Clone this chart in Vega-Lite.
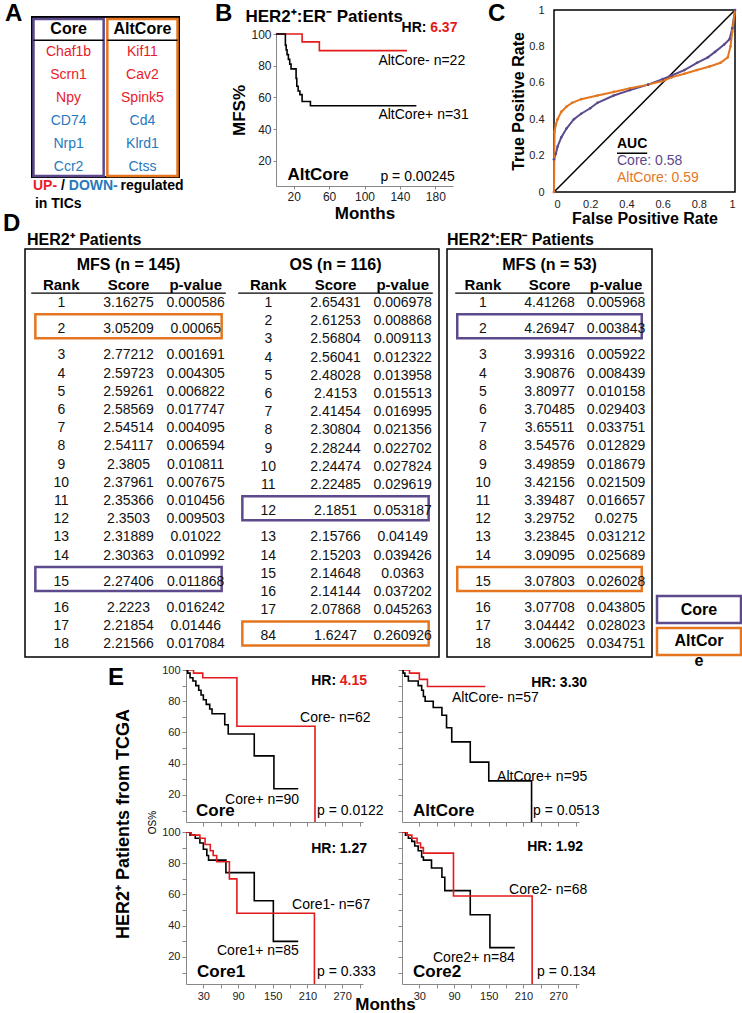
{
"$schema": "https://vega.github.io/schema/vega-lite/v6.json",
"padding": {"left": 3, "top": 1, "right": 0, "bottom": 0},
"background": "white",
"config": {
 "font": "Liberation Sans",
 "view": {"stroke": null},
 "axis": {"grid": false, "domainColor": "#888888", "tickColor": "#888888", "labelColor": "#222222", "labelFontSize": 11, "titleFontSize": 16, "titleFontWeight": "bold", "titleColor": "#000000", "tickSize": 4, "labelPadding": 2, "labelOverlap": false},
 "title": {"fontWeight": "bold", "color": "#000000", "anchor": "start", "frame": "group", "offset": 0, "baseline": "alphabetic"}
},
"datasets": {
 "genes": [
  {"set":"Core","row":1,"gene":"Chaf1b","dir":"up"},
  {"set":"Core","row":2,"gene":"Scrn1","dir":"up"},
  {"set":"Core","row":3,"gene":"Npy","dir":"up"},
  {"set":"Core","row":4,"gene":"CD74","dir":"down"},
  {"set":"Core","row":5,"gene":"Nrp1","dir":"down"},
  {"set":"Core","row":6,"gene":"Ccr2","dir":"down"},
  {"set":"AltCore","row":1,"gene":"Kif11","dir":"up"},
  {"set":"AltCore","row":2,"gene":"Cav2","dir":"up"},
  {"set":"AltCore","row":3,"gene":"Spink5","dir":"up"},
  {"set":"AltCore","row":4,"gene":"Cd4","dir":"down"},
  {"set":"AltCore","row":5,"gene":"Klrd1","dir":"down"},
  {"set":"AltCore","row":6,"gene":"Ctss","dir":"down"}
 ],
 "ranks": [
  {"tbl":"MFS145","row":1,"rank":1,"score":3.16275,"p":0.000586},
  {"tbl":"MFS145","row":2,"rank":2,"score":3.05209,"p":0.00065,"box":"AltCore"},
  {"tbl":"MFS145","row":3,"rank":3,"score":2.77212,"p":0.001691},
  {"tbl":"MFS145","row":4,"rank":4,"score":2.59723,"p":0.004305},
  {"tbl":"MFS145","row":5,"rank":5,"score":2.59261,"p":0.006822},
  {"tbl":"MFS145","row":6,"rank":6,"score":2.58569,"p":0.017747},
  {"tbl":"MFS145","row":7,"rank":7,"score":2.54514,"p":0.004095},
  {"tbl":"MFS145","row":8,"rank":8,"score":2.54117,"p":0.006594},
  {"tbl":"MFS145","row":9,"rank":9,"score":2.3805,"p":0.010811},
  {"tbl":"MFS145","row":10,"rank":10,"score":2.37961,"p":0.007675},
  {"tbl":"MFS145","row":11,"rank":11,"score":2.35366,"p":0.010456},
  {"tbl":"MFS145","row":12,"rank":12,"score":2.3503,"p":0.009503},
  {"tbl":"MFS145","row":13,"rank":13,"score":2.31889,"p":0.01022},
  {"tbl":"MFS145","row":14,"rank":14,"score":2.30363,"p":0.010992},
  {"tbl":"MFS145","row":15,"rank":15,"score":2.27406,"p":0.011868,"box":"Core"},
  {"tbl":"MFS145","row":16,"rank":16,"score":2.2223,"p":0.016242},
  {"tbl":"MFS145","row":17,"rank":17,"score":2.21854,"p":0.01446},
  {"tbl":"MFS145","row":18,"rank":18,"score":2.21566,"p":0.017084},
  {"tbl":"OS116","row":1,"rank":1,"score":2.65431,"p":0.006978},
  {"tbl":"OS116","row":2,"rank":2,"score":2.61253,"p":0.008868},
  {"tbl":"OS116","row":3,"rank":3,"score":2.56804,"p":0.009113},
  {"tbl":"OS116","row":4,"rank":4,"score":2.56041,"p":0.012322},
  {"tbl":"OS116","row":5,"rank":5,"score":2.48028,"p":0.013958},
  {"tbl":"OS116","row":6,"rank":6,"score":2.4153,"p":0.015513},
  {"tbl":"OS116","row":7,"rank":7,"score":2.41454,"p":0.016995},
  {"tbl":"OS116","row":8,"rank":8,"score":2.30804,"p":0.021356},
  {"tbl":"OS116","row":9,"rank":9,"score":2.28244,"p":0.022702},
  {"tbl":"OS116","row":10,"rank":10,"score":2.24474,"p":0.027824},
  {"tbl":"OS116","row":11,"rank":11,"score":2.22485,"p":0.029619},
  {"tbl":"OS116","row":12,"rank":12,"score":2.1851,"p":0.053187,"box":"Core"},
  {"tbl":"OS116","row":13,"rank":13,"score":2.15766,"p":0.04149},
  {"tbl":"OS116","row":14,"rank":14,"score":2.15203,"p":0.039426},
  {"tbl":"OS116","row":15,"rank":15,"score":2.14648,"p":0.0363},
  {"tbl":"OS116","row":16,"rank":16,"score":2.14144,"p":0.037202},
  {"tbl":"OS116","row":17,"rank":17,"score":2.07868,"p":0.045263},
  {"tbl":"OS116","row":18,"rank":84,"score":1.6247,"p":0.260926,"box":"AltCore"},
  {"tbl":"MFS53","row":1,"rank":1,"score":4.41268,"p":0.005968},
  {"tbl":"MFS53","row":2,"rank":2,"score":4.26947,"p":0.003843,"box":"Core"},
  {"tbl":"MFS53","row":3,"rank":3,"score":3.99316,"p":0.005922},
  {"tbl":"MFS53","row":4,"rank":4,"score":3.90876,"p":0.008439},
  {"tbl":"MFS53","row":5,"rank":5,"score":3.80977,"p":0.010158},
  {"tbl":"MFS53","row":6,"rank":6,"score":3.70485,"p":0.029403},
  {"tbl":"MFS53","row":7,"rank":7,"score":3.65511,"p":0.033751},
  {"tbl":"MFS53","row":8,"rank":8,"score":3.54576,"p":0.012829},
  {"tbl":"MFS53","row":9,"rank":9,"score":3.49859,"p":0.018679},
  {"tbl":"MFS53","row":10,"rank":10,"score":3.42156,"p":0.021509},
  {"tbl":"MFS53","row":11,"rank":11,"score":3.39487,"p":0.016657},
  {"tbl":"MFS53","row":12,"rank":12,"score":3.29752,"p":0.0275},
  {"tbl":"MFS53","row":13,"rank":13,"score":3.23845,"p":0.031212},
  {"tbl":"MFS53","row":14,"rank":14,"score":3.09095,"p":0.025689},
  {"tbl":"MFS53","row":15,"rank":15,"score":3.07803,"p":0.026028,"box":"AltCore"},
  {"tbl":"MFS53","row":16,"rank":16,"score":3.07708,"p":0.043805},
  {"tbl":"MFS53","row":17,"rank":17,"score":3.04442,"p":0.028023},
  {"tbl":"MFS53","row":18,"rank":18,"score":3.00625,"p":0.034751}
 ],
 "heads": [
  {"tbl":"MFS145","key":"rank","label":"Rank"},{"tbl":"MFS145","key":"score","label":"Score"},{"tbl":"MFS145","key":"p","label":"p-value"},
  {"tbl":"OS116","key":"rank","label":"Rank"},{"tbl":"OS116","key":"score","label":"Score"},{"tbl":"OS116","key":"p","label":"p-value"},
  {"tbl":"MFS53","key":"rank","label":"Rank"},{"tbl":"MFS53","key":"score","label":"Score"},{"tbl":"MFS53","key":"p","label":"p-value"}
 ],
 "tables": [
  {"tbl":"MFS145","title":"MFS (n = 145)"},
  {"tbl":"OS116","title":"OS (n = 116)"},
  {"tbl":"MFS53","title":"MFS (n = 53)"}
 ],
 "km": [
  {"panel":"B","status":"-","m":0,"s":100},{"panel":"B","status":"-","m":29.5,"s":95},{"panel":"B","status":"-","m":49,"s":89.5},{"panel":"B","status":"-","m":148,"s":89.5},
  {"panel":"B","status":"+","m":0,"s":100},{"panel":"B","status":"+","m":10.6,"s":93},{"panel":"B","status":"+","m":11.5,"s":90},{"panel":"B","status":"+","m":12.5,"s":87},{"panel":"B","status":"+","m":14,"s":84},{"panel":"B","status":"+","m":15.5,"s":81},{"panel":"B","status":"+","m":17,"s":78},{"panel":"B","status":"+","m":22.7,"s":72},{"panel":"B","status":"+","m":23.5,"s":67},{"panel":"B","status":"+","m":25,"s":64},{"panel":"B","status":"+","m":27,"s":61.7},{"panel":"B","status":"+","m":29.5,"s":57.4},{"panel":"B","status":"+","m":38.9,"s":54.7},{"panel":"B","status":"+","m":158.6,"s":54.7},
  {"panel":"Core","status":"-","m":0,"s":100},{"panel":"Core","status":"-","m":13,"s":98},{"panel":"Core","status":"-","m":29,"s":95},{"panel":"Core","status":"-","m":88,"s":64},{"panel":"Core","status":"-","m":223,"s":0},
  {"panel":"Core","status":"+","m":0,"s":100},{"panel":"Core","status":"+","m":3,"s":98},{"panel":"Core","status":"+","m":7,"s":95},{"panel":"Core","status":"+","m":12,"s":93},{"panel":"Core","status":"+","m":17,"s":90},{"panel":"Core","status":"+","m":22,"s":87},{"panel":"Core","status":"+","m":26,"s":84},{"panel":"Core","status":"+","m":30,"s":81},{"panel":"Core","status":"+","m":35,"s":78},{"panel":"Core","status":"+","m":41,"s":75},{"panel":"Core","status":"+","m":45,"s":72},{"panel":"Core","status":"+","m":67,"s":65},{"panel":"Core","status":"+","m":73,"s":59},{"panel":"Core","status":"+","m":118,"s":45},{"panel":"Core","status":"+","m":152,"s":24},{"panel":"Core","status":"+","m":194,"s":24},
  {"panel":"AltCore","status":"-","m":0,"s":100},{"panel":"AltCore","status":"-","m":13,"s":98},{"panel":"AltCore","status":"-","m":30,"s":94},{"panel":"AltCore","status":"-","m":44,"s":89.4},{"panel":"AltCore","status":"-","m":144,"s":89.4},
  {"panel":"AltCore","status":"+","m":0,"s":100},{"panel":"AltCore","status":"+","m":2,"s":98},{"panel":"AltCore","status":"+","m":5,"s":96},{"panel":"AltCore","status":"+","m":11,"s":93},{"panel":"AltCore","status":"+","m":28,"s":90},{"panel":"AltCore","status":"+","m":34,"s":87},{"panel":"AltCore","status":"+","m":37,"s":83},{"panel":"AltCore","status":"+","m":40,"s":80},{"panel":"AltCore","status":"+","m":54,"s":76},{"panel":"AltCore","status":"+","m":69,"s":71},{"panel":"AltCore","status":"+","m":77,"s":63},{"panel":"AltCore","status":"+","m":86,"s":54},{"panel":"AltCore","status":"+","m":118,"s":41},{"panel":"AltCore","status":"+","m":150,"s":29},{"panel":"AltCore","status":"+","m":224,"s":0},
  {"panel":"Core1","status":"+","m":0,"s":100},{"panel":"Core1","status":"+","m":7,"s":98},{"panel":"Core1","status":"+","m":16,"s":96},{"panel":"Core1","status":"+","m":24,"s":93},{"panel":"Core1","status":"+","m":30,"s":89},{"panel":"Core1","status":"+","m":36,"s":85},{"panel":"Core1","status":"+","m":39,"s":82},{"panel":"Core1","status":"+","m":69,"s":74},{"panel":"Core1","status":"+","m":118,"s":56},{"panel":"Core1","status":"+","m":151,"s":30},{"panel":"Core1","status":"+","m":194,"s":30},
  {"panel":"Core1","status":"-","m":0,"s":100},{"panel":"Core1","status":"-","m":9,"s":98},{"panel":"Core1","status":"-","m":24,"s":96},{"panel":"Core1","status":"-","m":33,"s":92},{"panel":"Core1","status":"-","m":42,"s":88},{"panel":"Core1","status":"-","m":47,"s":85},{"panel":"Core1","status":"-","m":53,"s":81},{"panel":"Core1","status":"-","m":75,"s":70},{"panel":"Core1","status":"-","m":88,"s":48},{"panel":"Core1","status":"-","m":222,"s":0},
  {"panel":"Core2","status":"+","m":0,"s":100},{"panel":"Core2","status":"+","m":6,"s":98},{"panel":"Core2","status":"+","m":11,"s":96},{"panel":"Core2","status":"+","m":17,"s":94},{"panel":"Core2","status":"+","m":22,"s":91},{"panel":"Core2","status":"+","m":28,"s":88},{"panel":"Core2","status":"+","m":34,"s":84},{"panel":"Core2","status":"+","m":37,"s":82},{"panel":"Core2","status":"+","m":51,"s":77},{"panel":"Core2","status":"+","m":69,"s":71},{"panel":"Core2","status":"+","m":74,"s":62.5},{"panel":"Core2","status":"+","m":118,"s":47},{"panel":"Core2","status":"+","m":152,"s":26},{"panel":"Core2","status":"+","m":195,"s":26},
  {"panel":"Core2","status":"-","m":0,"s":100},{"panel":"Core2","status":"-","m":9,"s":98},{"panel":"Core2","status":"-","m":17,"s":96},{"panel":"Core2","status":"-","m":26,"s":93},{"panel":"Core2","status":"-","m":32,"s":90},{"panel":"Core2","status":"-","m":37,"s":86.5},{"panel":"Core2","status":"-","m":89,"s":59},{"panel":"Core2","status":"-","m":225,"s":0}
 ],
 "notes": [
  {"panel":"B","kind":"hr","label":"6.37","m":205,"s":103.8,"p":0.00245},
  {"panel":"B","kind":"neg","label":"AltCore- n=22","m":115.7,"s":82.9},
  {"panel":"B","kind":"pos","label":"AltCore+ n=31","m":115.7,"s":48.8},
  {"panel":"B","kind":"name","label":"AltCore","m":12.9,"s":10.9},
  {"panel":"B","kind":"p","label":"p = 0.00245","m":118,"s":9.7},
  {"panel":"Core","kind":"hr","label":"4.15","m":313,"s":93,"p":0.0122},
  {"panel":"Core","kind":"neg","label":"Core- n=62","m":197.2,"s":69.3},
  {"panel":"Core","kind":"pos","label":"Core+ n=90","m":67.5,"s":16.8},
  {"panel":"Core","kind":"name","label":"Core","m":17.3,"s":9.8},
  {"panel":"Core","kind":"p","label":"p = 0.0122","m":226.6,"s":9.8},
  {"panel":"AltCore","kind":"hr","label":"3.30","m":320,"s":91.7,"p":0.0513},
  {"panel":"AltCore","kind":"neg","label":"AltCore- n=57","m":86.5,"s":82.1},
  {"panel":"AltCore","kind":"pos","label":"AltCore+ n=95","m":164.4,"s":31.5},
  {"panel":"AltCore","kind":"name","label":"AltCore","m":19,"s":9.8},
  {"panel":"AltCore","kind":"p","label":"p = 0.0513","m":226.6,"s":9.8},
  {"panel":"Core1","kind":"hr","label":"1.27","m":313,"s":89.1,"p":0.333},
  {"panel":"Core1","kind":"neg","label":"Core1- n=67","m":183.4,"s":53.3},
  {"panel":"Core1","kind":"pos","label":"Core1+ n=85","m":53.6,"s":23.8},
  {"panel":"Core1","kind":"name","label":"Core1","m":19,"s":10.4},
  {"panel":"Core1","kind":"p","label":"p = 0.333","m":226.6,"s":10.4},
  {"panel":"Core2","kind":"hr","label":"1.92","m":313,"s":90.4,"p":0.134},
  {"panel":"Core2","kind":"neg","label":"Core2- n=68","m":185.1,"s":62.9},
  {"panel":"Core2","kind":"pos","label":"Core2+ n=84","m":53.6,"s":19.4},
  {"panel":"Core2","kind":"name","label":"Core2","m":19,"s":10.4},
  {"panel":"Core2","kind":"p","label":"p = 0.134","m":233.6,"s":10.4}
 ],
 "roc": [
  {"model":"Core","i":0,"fpr":0,"tpr":0},{"model":"Core","i":1,"fpr":0,"tpr":0.18},{"model":"Core","i":2,"fpr":0.01,"tpr":0.21},{"model":"Core","i":3,"fpr":0.02,"tpr":0.25},{"model":"Core","i":4,"fpr":0.04,"tpr":0.3},{"model":"Core","i":5,"fpr":0.07,"tpr":0.35},{"model":"Core","i":6,"fpr":0.11,"tpr":0.4},{"model":"Core","i":7,"fpr":0.15,"tpr":0.43},{"model":"Core","i":8,"fpr":0.2,"tpr":0.46},{"model":"Core","i":9,"fpr":0.24,"tpr":0.49},{"model":"Core","i":10,"fpr":0.33,"tpr":0.53},{"model":"Core","i":11,"fpr":0.42,"tpr":0.56},{"model":"Core","i":12,"fpr":0.52,"tpr":0.59},{"model":"Core","i":13,"fpr":0.6,"tpr":0.62},{"model":"Core","i":14,"fpr":0.65,"tpr":0.64},{"model":"Core","i":15,"fpr":0.72,"tpr":0.67},{"model":"Core","i":16,"fpr":0.79,"tpr":0.71},{"model":"Core","i":17,"fpr":0.85,"tpr":0.74},{"model":"Core","i":18,"fpr":0.89,"tpr":0.77},{"model":"Core","i":19,"fpr":0.94,"tpr":0.81},{"model":"Core","i":20,"fpr":0.97,"tpr":0.84},{"model":"Core","i":21,"fpr":0.985,"tpr":0.9},{"model":"Core","i":22,"fpr":1,"tpr":1},
  {"model":"AltCore","i":0,"fpr":0,"tpr":0},{"model":"AltCore","i":1,"fpr":0.003,"tpr":0.33},{"model":"AltCore","i":2,"fpr":0.01,"tpr":0.37},{"model":"AltCore","i":3,"fpr":0.02,"tpr":0.4},{"model":"AltCore","i":4,"fpr":0.04,"tpr":0.44},{"model":"AltCore","i":5,"fpr":0.07,"tpr":0.47},{"model":"AltCore","i":6,"fpr":0.1,"tpr":0.49},{"model":"AltCore","i":7,"fpr":0.15,"tpr":0.51},{"model":"AltCore","i":8,"fpr":0.24,"tpr":0.53},{"model":"AltCore","i":9,"fpr":0.33,"tpr":0.55},{"model":"AltCore","i":10,"fpr":0.42,"tpr":0.57},{"model":"AltCore","i":11,"fpr":0.52,"tpr":0.59},{"model":"AltCore","i":12,"fpr":0.6,"tpr":0.61},{"model":"AltCore","i":13,"fpr":0.65,"tpr":0.63},{"model":"AltCore","i":14,"fpr":0.72,"tpr":0.65},{"model":"AltCore","i":15,"fpr":0.79,"tpr":0.67},{"model":"AltCore","i":16,"fpr":0.86,"tpr":0.69},{"model":"AltCore","i":17,"fpr":0.92,"tpr":0.71},{"model":"AltCore","i":18,"fpr":0.96,"tpr":0.74},{"model":"AltCore","i":19,"fpr":0.975,"tpr":0.8},{"model":"AltCore","i":20,"fpr":0.985,"tpr":0.88},{"model":"AltCore","i":21,"fpr":1,"tpr":1}
 ]
},
"spacing": -25,
"resolve": {"scale": {"xOffset": "independent"}},
"vconcat": [
 {"bounds": "flush", "spacing": 0, "hconcat": [
  {"width": 12, "height": 220, "data": {"values": []}, "mark": "point"},
  {
   "width": 147, "height": 160,
   "title": {"text": "A", "fontSize": 24, "dx": -27, "dy": 13},
   "view": {"stroke": "#000000", "strokeWidth": 2},
   "layer": [
    {"data": {"values": [{"set":"Core"},{"set":"AltCore"}]},
     "mark": {"type": "rect", "filled": false, "strokeWidth": 2.5},
     "encoding": {
      "x": {"field": "set", "type": "nominal", "scale": {"domain": ["Core","AltCore"], "paddingInner": 0.05, "paddingOuter": 0.02}, "axis": null},
      "y": {"datum": -0.435, "type": "quantitative", "scale": {"domain": [-0.522, 6.435], "reverse": true, "nice": false, "zero": false}, "axis": null},
      "y2": {"datum": 6.39},
      "stroke": {"field": "set", "type": "nominal", "scale": {"domain": ["Core","AltCore"], "range": ["#5c4a8c","#e5761f"]}, "legend": null}}},
    {"data": {"values": [{"set":"Core"},{"set":"AltCore"}]},
     "mark": {"type": "rect", "color": "#000000"},
     "encoding": {"x": {"field": "set", "type": "nominal", "axis": null}, "y": {"datum": 0.455, "type": "quantitative", "axis": null}, "y2": {"datum": 0.52}}},
    {"data": {"values": [{"set":"Core"},{"set":"AltCore"}]},
     "mark": {"type": "text", "fontSize": 16, "fontWeight": "bold", "baseline": "middle", "color": "#000000"},
     "encoding": {"x": {"field": "set", "type": "nominal", "axis": null}, "y": {"datum": 0, "type": "quantitative", "axis": null}, "text": {"field": "set"}}},
    {"data": {"name": "genes"},
     "mark": {"type": "text", "fontSize": 14, "baseline": "middle"},
     "encoding": {"x": {"field": "set", "type": "nominal", "axis": null}, "y": {"field": "row", "type": "quantitative", "axis": null}, "text": {"field": "gene"},
      "color": {"field": "dir", "type": "nominal", "scale": {"domain": ["up","down","Core","AltCore","-","+"], "range": ["#e8202a","#2779bd","#5c4a8c","#e5761f","#e41a1c","#000000"]}, "legend": null}}},
    {"data": {"values": [{}]}, "mark": {"type": "text", "text": "UP-", "fontSize": 14, "fontWeight": "bold", "align": "left", "baseline": "middle", "dx": -35.6, "color": "#e8202a"},
     "encoding": {"x": {"datum": "Core", "type": "nominal", "axis": null}, "y": {"datum": 6.826, "type": "quantitative", "axis": null}}},
    {"data": {"values": [{}]}, "mark": {"type": "text", "text": "/", "fontSize": 14, "fontWeight": "bold", "align": "left", "baseline": "middle", "dx": -7.6, "color": "#000000"},
     "encoding": {"x": {"datum": "Core", "type": "nominal", "axis": null}, "y": {"datum": 6.826, "type": "quantitative", "axis": null}}},
    {"data": {"values": [{}]}, "mark": {"type": "text", "text": "DOWN-", "fontSize": 14, "fontWeight": "bold", "align": "left", "baseline": "middle", "dx": 0.2, "color": "#2779bd"},
     "encoding": {"x": {"datum": "Core", "type": "nominal", "axis": null}, "y": {"datum": 6.826, "type": "quantitative", "axis": null}}},
    {"data": {"values": [{}]}, "mark": {"type": "text", "text": "regulated", "fontSize": 14, "fontWeight": "bold", "align": "left", "baseline": "middle", "dx": 52, "color": "#000000"},
     "encoding": {"x": {"datum": "Core", "type": "nominal", "axis": null}, "y": {"datum": 6.826, "type": "quantitative", "axis": null}}},
    {"data": {"values": [{}]}, "mark": {"type": "text", "text": "in TICs", "fontSize": 14, "fontWeight": "bold", "align": "left", "baseline": "middle", "dx": -33.6, "color": "#000000"},
     "encoding": {"x": {"datum": "Core", "type": "nominal", "axis": null}, "y": {"datum": 7.61, "type": "quantitative", "axis": null}}}
   ]
  },
  {"width": 96.6, "height": 1, "data": {"values": []}, "mark": "point", "title": {"text": "B", "fontSize": 24, "dx": 36, "dy": 13}},
  {
   "width": 177, "height": 169,
   "title": {"text": "HER2⁺:ER⁻ Patients", "fontSize": 17, "dx": -30.6, "dy": 12.5},
   "layer": [
    {"data": {"name": "km"}, "transform": [{"filter": "datum.panel === 'B'"}],
     "mark": {"type": "line", "interpolate": "step-after", "strokeWidth": 1.6},
     "encoding": {
      "x": {"field": "m", "type": "quantitative", "scale": {"domain": [0, 200], "nice": false}, "axis": {"values": [20,60,100,140,180], "tickCount": 20, "labelOverlap": false, "title": "Months", "titleFontSize": 17, "titlePadding": 3, "labelFontSize": 12, "tickSize": 3}},
      "y": {"field": "s", "type": "quantitative", "scale": {"domain": [4, 100], "range": [169, 17], "nice": false, "zero": false}, "axis": {"values": [20,40,60,80,100], "tickCount": 20, "labelOverlap": false, "title": "MFS%", "titleFontSize": 17, "titlePadding": 2, "labelFontSize": 12, "tickSize": 3}},
      "color": {"field": "status", "type": "nominal", "scale": {"domain": ["up","down","Core","AltCore","-","+"], "range": ["#e8202a","#2779bd","#5c4a8c","#e5761f","#e41a1c","#000000"]}, "legend": null}}},
    {"data": {"name": "notes"}, "transform": [{"filter": "datum.panel === 'B' && datum.kind === 'hr'"}],
     "mark": {"type": "text", "text": "HR:", "fontSize": 14, "fontWeight": "bold", "align": "right", "baseline": "middle", "dx": -31, "color": "#000000"},
     "encoding": {"x": {"field": "m", "type": "quantitative"}, "y": {"field": "s", "type": "quantitative"}}},
    {"data": {"name": "notes"}, "transform": [{"filter": "datum.panel === 'B' && datum.kind === 'hr'"}],
     "mark": {"type": "text", "fontSize": 14, "fontWeight": "bold", "align": "right", "baseline": "middle"},
     "encoding": {"x": {"field": "m", "type": "quantitative"}, "y": {"field": "s", "type": "quantitative"}, "text": {"field": "label"}, "color": {"condition": {"test": "datum.p < 0.05", "value": "#e41a1c"}, "value": "#000000"}}},
    {"data": {"name": "notes"}, "transform": [{"filter": "datum.panel === 'B' && (datum.kind === 'neg' || datum.kind === 'pos' || datum.kind === 'p')"}],
     "mark": {"type": "text", "fontSize": 14, "align": "left", "baseline": "middle", "color": "#000000"},
     "encoding": {"x": {"field": "m", "type": "quantitative"}, "y": {"field": "s", "type": "quantitative"}, "text": {"field": "label"}}},
    {"data": {"name": "notes"}, "transform": [{"filter": "datum.panel === 'B' && datum.kind === 'name'"}],
     "mark": {"type": "text", "fontSize": 17, "fontWeight": "bold", "align": "left", "baseline": "middle", "color": "#000000"},
     "encoding": {"x": {"field": "m", "type": "quantitative"}, "y": {"field": "s", "type": "quantitative"}, "text": {"field": "label"}}}
   ]
  },
  {"width": 100.4, "height": 1, "data": {"values": []}, "mark": "point"},
  {
   "width": 181, "height": 175,
   "title": {"text": "C", "fontSize": 24, "dx": -66, "dy": 26},
   "layer": [
    {"data": {"values": [{}]}, "mark": {"type": "rect", "filled": false, "stroke": "#000000", "strokeWidth": 1.5},
     "encoding": {"x": {"datum": 0, "type": "quantitative"}, "x2": {"datum": 1}, "y": {"datum": 0, "type": "quantitative"}, "y2": {"datum": 1}}},
    {"data": {"values": [{}]}, "mark": {"type": "rule", "color": "#000000", "strokeWidth": 1.5},
     "encoding": {"x": {"datum": 0, "type": "quantitative"}, "x2": {"datum": 1}, "y": {"datum": 0, "type": "quantitative"}, "y2": {"datum": 1}}},
    {"data": {"name": "roc"}, "mark": {"type": "line", "strokeWidth": 2, "point": {"filled": true, "size": 7}},
     "encoding": {
      "x": {"field": "fpr", "type": "quantitative", "scale": {"domain": [0, 1], "nice": false}, "axis": {"values": [0,0.2,0.4,0.6,0.8,1], "tickCount": 20, "labelOverlap": false, "format": "~g", "ticks": false, "domain": false, "title": "False Positive Rate", "labelPadding": 6, "titlePadding": 1}},
      "y": {"field": "tpr", "type": "quantitative", "scale": {"domain": [0, 1], "range": [175, -7], "nice": false}, "axis": {"values": [0,0.2,0.4,0.6,0.8,1], "tickCount": 20, "labelOverlap": false, "format": "~g", "ticks": false, "domain": false, "title": "True Positive Rate", "labelPadding": 10, "titlePadding": 2}},
      "color": {"field": "model", "type": "nominal", "scale": {"domain": ["up","down","Core","AltCore","-","+"], "range": ["#e8202a","#2779bd","#5c4a8c","#e5761f","#e41a1c","#000000"]}, "legend": null},
      "order": {"field": "i", "type": "quantitative"}}},
    {"data": {"values": [{}]}, "mark": {"type": "text", "text": "AUC", "fontSize": 14, "fontWeight": "bold", "align": "left", "baseline": "middle", "color": "#000000"},
     "encoding": {"x": {"datum": 0.348, "type": "quantitative"}, "y": {"datum": 0.266, "type": "quantitative"}}},
    {"data": {"values": [{}]}, "mark": {"type": "rule", "color": "#000000", "strokeWidth": 1.5},
     "encoding": {"x": {"datum": 0.348, "type": "quantitative"}, "x2": {"datum": 0.515}, "y": {"datum": 0.213, "type": "quantitative"}}},
    {"data": {"values": [{"model": "Core", "auc": "0.58"}]}, "transform": [{"calculate": "datum.model + ': ' + datum.auc", "as": "lab"}],
     "mark": {"type": "text", "fontSize": 14, "align": "left", "baseline": "middle"},
     "encoding": {"x": {"datum": 0.348, "type": "quantitative"}, "y": {"datum": 0.168, "type": "quantitative"}, "text": {"field": "lab"},
      "color": {"field": "model", "type": "nominal", "scale": {"domain": ["up","down","Core","AltCore","-","+"], "range": ["#e8202a","#2779bd","#5c4a8c","#e5761f","#e41a1c","#000000"]}, "legend": null}}},
    {"data": {"values": [{"model": "AltCore", "auc": "0.59"}]}, "transform": [{"calculate": "datum.model + ': ' + datum.auc", "as": "lab"}],
     "mark": {"type": "text", "fontSize": 14, "align": "left", "baseline": "middle"},
     "encoding": {"x": {"datum": 0.348, "type": "quantitative"}, "y": {"datum": 0.077, "type": "quantitative"}, "text": {"field": "lab"},
      "color": {"field": "model", "type": "nominal", "scale": {"domain": ["up","down","Core","AltCore","-","+"], "range": ["#e8202a","#2779bd","#5c4a8c","#e5761f","#e41a1c","#000000"]}, "legend": null}}}
   ]
  }
 ]},
 {"bounds": "flush", "spacing": 0, "resolve": {"scale": {"xOffset": "independent"}}, "hconcat": [
  {"width": 5, "height": 421, "data": {"values": []}, "mark": "point", "title": {"text": "D", "fontSize": 24, "dx": -17, "dy": -9}},
  {
   "width": 414, "height": 408,
   "view": {"stroke": "#000000", "strokeWidth": 1.5},
   "title": {"text": "HER2⁺ Patients", "fontSize": 16, "dx": 2, "dy": 3},
   "resolve": {"scale": {"xOffset": "independent"}},
   "layer": [
    {"data": {"name": "ranks"},
     "transform": [
      {"filter": "datum.tbl !== 'MFS53'"},
      {"calculate": "datum.box ? 1 : 0", "as": "isbox"},
      {"window": [{"op": "sum", "field": "isbox", "as": "cum"}], "groupby": ["tbl"], "sort": [{"field": "row"}], "frame": [null, 0]},
      {"calculate": "datum.row + 0.44 * (2 * datum.cum - datum.isbox)", "as": "slot"},
      {"filter": "datum.box"},
      {"calculate": "datum.slot - 0.82", "as": "y0"},
      {"calculate": "datum.slot + 0.5", "as": "y1"}],
     "mark": {"type": "bar", "filled": false, "strokeWidth": 2.5, "width": {"band": 0.9}},
     "encoding": {
      "x": {"field": "tbl", "type": "nominal", "scale": {"type": "band", "domain": ["MFS145","OS116"], "paddingInner": 0, "paddingOuter": 0}, "axis": null},
      "y": {"field": "y0", "type": "quantitative", "scale": {"domain": [-1.967, 20.45], "reverse": true, "nice": false, "zero": false}, "axis": null},
      "y2": {"field": "y1"},
      "stroke": {"field": "box", "type": "nominal", "scale": {"domain": ["Core","AltCore"], "range": ["#5c4a8c","#e5761f"]}, "legend": null}}},
    {"data": {"name": "tables"}, "transform": [{"filter": "datum.tbl !== 'MFS53'"}],
     "mark": {"type": "bar", "color": "#000000", "width": {"band": 0.94}},
     "encoding": {"x": {"field": "tbl", "type": "nominal", "axis": null}, "y": {"datum": 0.42, "type": "quantitative", "axis": null}, "y2": {"datum": 0.49}}},
    {"data": {"name": "ranks"},
     "transform": [
      {"filter": "datum.tbl !== 'MFS53'"},
      {"calculate": "datum.box ? 1 : 0", "as": "isbox"},
      {"window": [{"op": "sum", "field": "isbox", "as": "cum"}], "groupby": ["tbl"], "sort": [{"field": "row"}], "frame": [null, 0]},
      {"calculate": "datum.row + 0.44 * (2 * datum.cum - datum.isbox)", "as": "slot"},
      {"fold": ["rank","score","p"], "as": ["key","val"]}],
     "mark": {"type": "text", "fontSize": 14, "baseline": "middle", "color": "#111111"},
     "encoding": {
      "x": {"field": "tbl", "type": "nominal", "axis": null},
      "xOffset": {"field": "key", "type": "nominal", "scale": {"type": "point", "domain": ["rank","score","p"], "padding": 0.54}},
      "y": {"field": "slot", "type": "quantitative", "axis": null},
      "text": {"field": "val", "type": "nominal"}}},
    {"data": {"name": "heads"}, "transform": [{"filter": "datum.tbl !== 'MFS53'"}],
     "mark": {"type": "text", "fontSize": 15, "fontWeight": "bold", "baseline": "middle", "color": "#000000"},
     "encoding": {
      "x": {"field": "tbl", "type": "nominal", "axis": null},
      "xOffset": {"field": "key", "type": "nominal", "scale": {"type": "point", "domain": ["rank","score","p"], "padding": 0.54}},
      "y": {"datum": 0, "type": "quantitative", "axis": null},
      "text": {"field": "label"}}},
    {"data": {"name": "tables"}, "transform": [{"filter": "datum.tbl !== 'MFS53'"}],
     "mark": {"type": "text", "fontSize": 16, "fontWeight": "bold", "baseline": "middle", "color": "#000000"},
     "encoding": {"x": {"field": "tbl", "type": "nominal", "axis": null}, "y": {"datum": -1.09, "type": "quantitative", "axis": null}, "text": {"field": "title"}}}
   ]
  },
  {"width": 8, "height": 1, "data": {"values": []}, "mark": "point"},
  {
   "width": 205, "height": 408,
   "view": {"stroke": "#000000", "strokeWidth": 1.5},
   "title": {"text": "HER2⁺:ER⁻ Patients", "fontSize": 16, "dx": 0, "dy": 3},
   "resolve": {"scale": {"xOffset": "independent"}},
   "layer": [
    {"data": {"name": "ranks"},
     "transform": [
      {"filter": "datum.tbl === 'MFS53'"},
      {"calculate": "datum.box ? 1 : 0", "as": "isbox"},
      {"window": [{"op": "sum", "field": "isbox", "as": "cum"}], "groupby": ["tbl"], "sort": [{"field": "row"}], "frame": [null, 0]},
      {"calculate": "datum.row + 0.44 * (2 * datum.cum - datum.isbox)", "as": "slot"},
      {"filter": "datum.box"},
      {"calculate": "datum.slot - 0.82", "as": "y0"},
      {"calculate": "datum.slot + 0.5", "as": "y1"}],
     "mark": {"type": "bar", "filled": false, "strokeWidth": 2.5, "width": {"band": 0.9}},
     "encoding": {
      "x": {"field": "tbl", "type": "nominal", "scale": {"type": "band", "domain": ["MFS53"], "paddingInner": 0, "paddingOuter": 0}, "axis": null},
      "y": {"field": "y0", "type": "quantitative", "scale": {"domain": [-1.967, 20.45], "reverse": true, "nice": false, "zero": false}, "axis": null},
      "y2": {"field": "y1"},
      "stroke": {"field": "box", "type": "nominal", "scale": {"domain": ["Core","AltCore"], "range": ["#5c4a8c","#e5761f"]}, "legend": null}}},
    {"data": {"name": "tables"}, "transform": [{"filter": "datum.tbl === 'MFS53'"}],
     "mark": {"type": "bar", "color": "#000000", "width": {"band": 0.92}},
     "encoding": {"x": {"field": "tbl", "type": "nominal", "axis": null}, "y": {"datum": 0.42, "type": "quantitative", "axis": null}, "y2": {"datum": 0.49}}},
    {"data": {"name": "ranks"},
     "transform": [
      {"filter": "datum.tbl === 'MFS53'"},
      {"calculate": "datum.box ? 1 : 0", "as": "isbox"},
      {"window": [{"op": "sum", "field": "isbox", "as": "cum"}], "groupby": ["tbl"], "sort": [{"field": "row"}], "frame": [null, 0]},
      {"calculate": "datum.row + 0.44 * (2 * datum.cum - datum.isbox)", "as": "slot"},
      {"fold": ["rank","score","p"], "as": ["key","val"]}],
     "mark": {"type": "text", "fontSize": 14, "baseline": "middle", "color": "#111111"},
     "encoding": {
      "x": {"field": "tbl", "type": "nominal", "axis": null},
      "xOffset": {"field": "key", "type": "nominal", "scale": {"type": "point", "domain": ["rank","score","p"], "padding": 0.54}},
      "y": {"field": "slot", "type": "quantitative", "axis": null},
      "text": {"field": "val", "type": "nominal"}}},
    {"data": {"name": "heads"}, "transform": [{"filter": "datum.tbl === 'MFS53'"}],
     "mark": {"type": "text", "fontSize": 15, "fontWeight": "bold", "baseline": "middle", "color": "#000000"},
     "encoding": {
      "x": {"field": "tbl", "type": "nominal", "axis": null},
      "xOffset": {"field": "key", "type": "nominal", "scale": {"type": "point", "domain": ["rank","score","p"], "padding": 0.54}},
      "y": {"datum": 0, "type": "quantitative", "axis": null},
      "text": {"field": "label"}}},
    {"data": {"name": "tables"}, "transform": [{"filter": "datum.tbl === 'MFS53'"}],
     "mark": {"type": "text", "fontSize": 16, "fontWeight": "bold", "baseline": "middle", "color": "#000000"},
     "encoding": {"x": {"field": "tbl", "type": "nominal", "axis": null}, "y": {"datum": -1.09, "type": "quantitative", "axis": null}, "text": {"field": "title"}}}
   ]
  },
  {"width": 5, "height": 1, "data": {"values": []}, "mark": "point"},
  {
   "width": 84, "height": 408,
   "data": {"values": [{"set": "Core"}, {"set": "AltCore"}]},
   "transform": [{"calculate": "datum.set === 'AltCore' ? ['AltCor', 'e'] : datum.set", "as": "lab"}],
   "layer": [
    {"mark": {"type": "rect", "filled": false, "strokeWidth": 2.5},
     "encoding": {
      "y": {"field": "set", "type": "nominal", "scale": {"domain": ["Core","AltCore"], "range": [347, 406], "paddingInner": 0.15, "paddingOuter": 0}, "axis": null},
      "x": {"datum": 0, "type": "quantitative", "scale": {"domain": [0, 1]}, "axis": null},
      "x2": {"datum": 1},
      "stroke": {"field": "set", "type": "nominal", "scale": {"domain": ["Core","AltCore"], "range": ["#5c4a8c","#e5761f"]}, "legend": null}}},
    {"mark": {"type": "text", "fontSize": 16, "fontWeight": "bold", "baseline": "middle", "lineHeight": 20, "color": "#000000"},
     "encoding": {
      "y": {"field": "set", "type": "nominal", "axis": null},
      "x": {"datum": 0.5, "type": "quantitative", "axis": null},
      "text": {"field": "lab"}}}
   ]
  }
 ]},
 {"columns": 4, "align": "each", "bounds": "flush", "spacing": 0,
  "title": {"text": "HER2⁺ Patients from TCGA", "orient": "left", "anchor": "middle", "frame": "bounds", "fontSize": 18, "offset": -113, "dx": 14},
  "concat": [
  {"width": 166, "height": 162, "data": {"values": []}, "mark": "point"},
  {"width": 177, "height": 152,
   "title": {"text": "E", "fontSize": 24, "dx": -78, "dy": 30},
   "layer": [
   {"data": {"name": "km"}, "transform": [{"filter": "datum.panel === 'Core'"}],
    "mark": {"type": "line", "interpolate": "step-after", "strokeWidth": 1.6, "clip": true},
    "encoding": {
     "x": {"field": "m", "type": "quantitative", "scale": {"domain": [0, 306], "nice": false}, "axis": {"values": [30,60,90,120,150,180,210,240,270,300], "tickCount": 20, "labelOverlap": false, "labels": false, "title": null}},
     "y": {"field": "s", "type": "quantitative", "scale": {"domain": [2.7, 100], "nice": false, "zero": false}, "axis": {"values": [10,20,30,40,50,60,70,80,90,100], "tickCount": 20, "labelOverlap": false, "labelExpr": "datum.value % 20 === 0 ? datum.label : ''", "title": "OS%", "titleAnchor": "start", "titleAlign": "center", "titleFontSize": 10, "titleFontWeight": "normal", "titlePadding": 4}},
     "color": {"field": "status", "type": "nominal", "scale": {"domain": ["up","down","Core","AltCore","-","+"], "range": ["#e8202a","#2779bd","#5c4a8c","#e5761f","#e41a1c","#000000"]}, "legend": null}}},
   {"data": {"name": "notes"}, "transform": [{"filter": "datum.panel === 'Core' && datum.kind === 'hr'"}],
    "mark": {"type": "text", "text": "HR:", "fontSize": 14, "fontWeight": "bold", "align": "right", "baseline": "middle", "dx": -31, "color": "#000000"},
    "encoding": {"x": {"field": "m", "type": "quantitative"}, "y": {"field": "s", "type": "quantitative"}}},
   {"data": {"name": "notes"}, "transform": [{"filter": "datum.panel === 'Core' && datum.kind === 'hr'"}],
    "mark": {"type": "text", "fontSize": 14, "fontWeight": "bold", "align": "right", "baseline": "middle"},
    "encoding": {"x": {"field": "m", "type": "quantitative"}, "y": {"field": "s", "type": "quantitative"}, "text": {"field": "label"}, "color": {"condition": {"test": "datum.p < 0.05", "value": "#e41a1c"}, "value": "#000000"}}},
   {"data": {"name": "notes"}, "transform": [{"filter": "datum.panel === 'Core' && (datum.kind === 'neg' || datum.kind === 'pos' || datum.kind === 'p')"}],
    "mark": {"type": "text", "fontSize": 14, "align": "left", "baseline": "middle", "color": "#000000"},
    "encoding": {"x": {"field": "m", "type": "quantitative"}, "y": {"field": "s", "type": "quantitative"}, "text": {"field": "label"}}},
   {"data": {"name": "notes"}, "transform": [{"filter": "datum.panel === 'Core' && datum.kind === 'name'"}],
    "mark": {"type": "text", "fontSize": 17, "fontWeight": "bold", "align": "left", "baseline": "middle", "color": "#000000"},
    "encoding": {"x": {"field": "m", "type": "quantitative"}, "y": {"field": "s", "type": "quantitative"}, "text": {"field": "label"}}}
  ]},
  {"width": 39, "height": 1, "data": {"values": []}, "mark": "point"},
  {"width": 177, "height": 152, "layer": [
   {"data": {"name": "km"}, "transform": [{"filter": "datum.panel === 'AltCore'"}],
    "mark": {"type": "line", "interpolate": "step-after", "strokeWidth": 1.6, "clip": true},
    "encoding": {
     "x": {"field": "m", "type": "quantitative", "scale": {"domain": [0, 306], "nice": false}, "axis": {"values": [30,60,90,120,150,180,210,240,270,300], "tickCount": 20, "labelOverlap": false, "labels": false, "title": null}},
     "y": {"field": "s", "type": "quantitative", "scale": {"domain": [2.7, 100], "nice": false, "zero": false}, "axis": {"values": [10,20,30,40,50,60,70,80,90,100], "tickCount": 20, "labelOverlap": false, "labels": false, "title": null}},
     "color": {"field": "status", "type": "nominal", "scale": {"domain": ["up","down","Core","AltCore","-","+"], "range": ["#e8202a","#2779bd","#5c4a8c","#e5761f","#e41a1c","#000000"]}, "legend": null}}},
   {"data": {"name": "notes"}, "transform": [{"filter": "datum.panel === 'AltCore' && datum.kind === 'hr'"}],
    "mark": {"type": "text", "text": "HR:", "fontSize": 14, "fontWeight": "bold", "align": "right", "baseline": "middle", "dx": -31, "color": "#000000"},
    "encoding": {"x": {"field": "m", "type": "quantitative"}, "y": {"field": "s", "type": "quantitative"}}},
   {"data": {"name": "notes"}, "transform": [{"filter": "datum.panel === 'AltCore' && datum.kind === 'hr'"}],
    "mark": {"type": "text", "fontSize": 14, "fontWeight": "bold", "align": "right", "baseline": "middle"},
    "encoding": {"x": {"field": "m", "type": "quantitative"}, "y": {"field": "s", "type": "quantitative"}, "text": {"field": "label"}, "color": {"condition": {"test": "datum.p < 0.05", "value": "#e41a1c"}, "value": "#000000"}}},
   {"data": {"name": "notes"}, "transform": [{"filter": "datum.panel === 'AltCore' && (datum.kind === 'neg' || datum.kind === 'pos' || datum.kind === 'p')"}],
    "mark": {"type": "text", "fontSize": 14, "align": "left", "baseline": "middle", "color": "#000000"},
    "encoding": {"x": {"field": "m", "type": "quantitative"}, "y": {"field": "s", "type": "quantitative"}, "text": {"field": "label"}}},
   {"data": {"name": "notes"}, "transform": [{"filter": "datum.panel === 'AltCore' && datum.kind === 'name'"}],
    "mark": {"type": "text", "fontSize": 17, "fontWeight": "bold", "align": "left", "baseline": "middle", "color": "#000000"},
    "encoding": {"x": {"field": "m", "type": "quantitative"}, "y": {"field": "s", "type": "quantitative"}, "text": {"field": "label"}}}
  ]},
  {"width": 166, "height": 152, "data": {"values": []}, "mark": "point"},
  {"width": 177, "height": 152, "layer": [
   {"data": {"name": "km"}, "transform": [{"filter": "datum.panel === 'Core1'"}],
    "mark": {"type": "line", "interpolate": "step-after", "strokeWidth": 1.6, "clip": true},
    "encoding": {
     "x": {"field": "m", "type": "quantitative", "scale": {"domain": [0, 306], "nice": false}, "axis": {"values": [30,60,90,120,150,180,210,240,270,300], "tickCount": 20, "labelOverlap": false, "labelExpr": "datum.value % 60 === 30 ? datum.label : ''", "title": null}},
     "y": {"field": "s", "type": "quantitative", "scale": {"domain": [2.7, 100], "nice": false, "zero": false}, "axis": {"values": [10,20,30,40,50,60,70,80,90,100], "tickCount": 20, "labelOverlap": false, "labelExpr": "datum.value % 20 === 0 ? datum.label : ''", "title": null}},
     "color": {"field": "status", "type": "nominal", "scale": {"domain": ["up","down","Core","AltCore","-","+"], "range": ["#e8202a","#2779bd","#5c4a8c","#e5761f","#e41a1c","#000000"]}, "legend": null}}},
   {"data": {"name": "notes"}, "transform": [{"filter": "datum.panel === 'Core1' && datum.kind === 'hr'"}],
    "mark": {"type": "text", "text": "HR:", "fontSize": 14, "fontWeight": "bold", "align": "right", "baseline": "middle", "dx": -31, "color": "#000000"},
    "encoding": {"x": {"field": "m", "type": "quantitative"}, "y": {"field": "s", "type": "quantitative"}}},
   {"data": {"name": "notes"}, "transform": [{"filter": "datum.panel === 'Core1' && datum.kind === 'hr'"}],
    "mark": {"type": "text", "fontSize": 14, "fontWeight": "bold", "align": "right", "baseline": "middle"},
    "encoding": {"x": {"field": "m", "type": "quantitative"}, "y": {"field": "s", "type": "quantitative"}, "text": {"field": "label"}, "color": {"condition": {"test": "datum.p < 0.05", "value": "#e41a1c"}, "value": "#000000"}}},
   {"data": {"name": "notes"}, "transform": [{"filter": "datum.panel === 'Core1' && (datum.kind === 'neg' || datum.kind === 'pos' || datum.kind === 'p')"}],
    "mark": {"type": "text", "fontSize": 14, "align": "left", "baseline": "middle", "color": "#000000"},
    "encoding": {"x": {"field": "m", "type": "quantitative"}, "y": {"field": "s", "type": "quantitative"}, "text": {"field": "label"}}},
   {"data": {"name": "notes"}, "transform": [{"filter": "datum.panel === 'Core1' && datum.kind === 'name'"}],
    "mark": {"type": "text", "fontSize": 17, "fontWeight": "bold", "align": "left", "baseline": "middle", "color": "#000000"},
    "encoding": {"x": {"field": "m", "type": "quantitative"}, "y": {"field": "s", "type": "quantitative"}, "text": {"field": "label"}}}
  ]},
  {"width": 39, "height": 1, "data": {"values": []}, "mark": "point"},
  {"width": 177, "height": 152, "layer": [
   {"data": {"name": "km"}, "transform": [{"filter": "datum.panel === 'Core2'"}],
    "mark": {"type": "line", "interpolate": "step-after", "strokeWidth": 1.6, "clip": true},
    "encoding": {
     "x": {"field": "m", "type": "quantitative", "scale": {"domain": [0, 306], "nice": false}, "axis": {"values": [30,60,90,120,150,180,210,240,270,300], "tickCount": 20, "labelOverlap": false, "labelExpr": "datum.value % 60 === 30 ? datum.label : ''", "title": "Months", "titleFontSize": 17, "titleAnchor": "start", "titleAlign": "center", "titleX": -17, "titlePadding": -5}},
     "y": {"field": "s", "type": "quantitative", "scale": {"domain": [2.7, 100], "nice": false, "zero": false}, "axis": {"values": [10,20,30,40,50,60,70,80,90,100], "tickCount": 20, "labelOverlap": false, "labels": false, "title": null}},
     "color": {"field": "status", "type": "nominal", "scale": {"domain": ["up","down","Core","AltCore","-","+"], "range": ["#e8202a","#2779bd","#5c4a8c","#e5761f","#e41a1c","#000000"]}, "legend": null}}},
   {"data": {"name": "notes"}, "transform": [{"filter": "datum.panel === 'Core2' && datum.kind === 'hr'"}],
    "mark": {"type": "text", "text": "HR:", "fontSize": 14, "fontWeight": "bold", "align": "right", "baseline": "middle", "dx": -31, "color": "#000000"},
    "encoding": {"x": {"field": "m", "type": "quantitative"}, "y": {"field": "s", "type": "quantitative"}}},
   {"data": {"name": "notes"}, "transform": [{"filter": "datum.panel === 'Core2' && datum.kind === 'hr'"}],
    "mark": {"type": "text", "fontSize": 14, "fontWeight": "bold", "align": "right", "baseline": "middle"},
    "encoding": {"x": {"field": "m", "type": "quantitative"}, "y": {"field": "s", "type": "quantitative"}, "text": {"field": "label"}, "color": {"condition": {"test": "datum.p < 0.05", "value": "#e41a1c"}, "value": "#000000"}}},
   {"data": {"name": "notes"}, "transform": [{"filter": "datum.panel === 'Core2' && (datum.kind === 'neg' || datum.kind === 'pos' || datum.kind === 'p')"}],
    "mark": {"type": "text", "fontSize": 14, "align": "left", "baseline": "middle", "color": "#000000"},
    "encoding": {"x": {"field": "m", "type": "quantitative"}, "y": {"field": "s", "type": "quantitative"}, "text": {"field": "label"}}},
   {"data": {"name": "notes"}, "transform": [{"filter": "datum.panel === 'Core2' && datum.kind === 'name'"}],
    "mark": {"type": "text", "fontSize": 17, "fontWeight": "bold", "align": "left", "baseline": "middle", "color": "#000000"},
    "encoding": {"x": {"field": "m", "type": "quantitative"}, "y": {"field": "s", "type": "quantitative"}, "text": {"field": "label"}}}
  ]}
 ]}
]
}
